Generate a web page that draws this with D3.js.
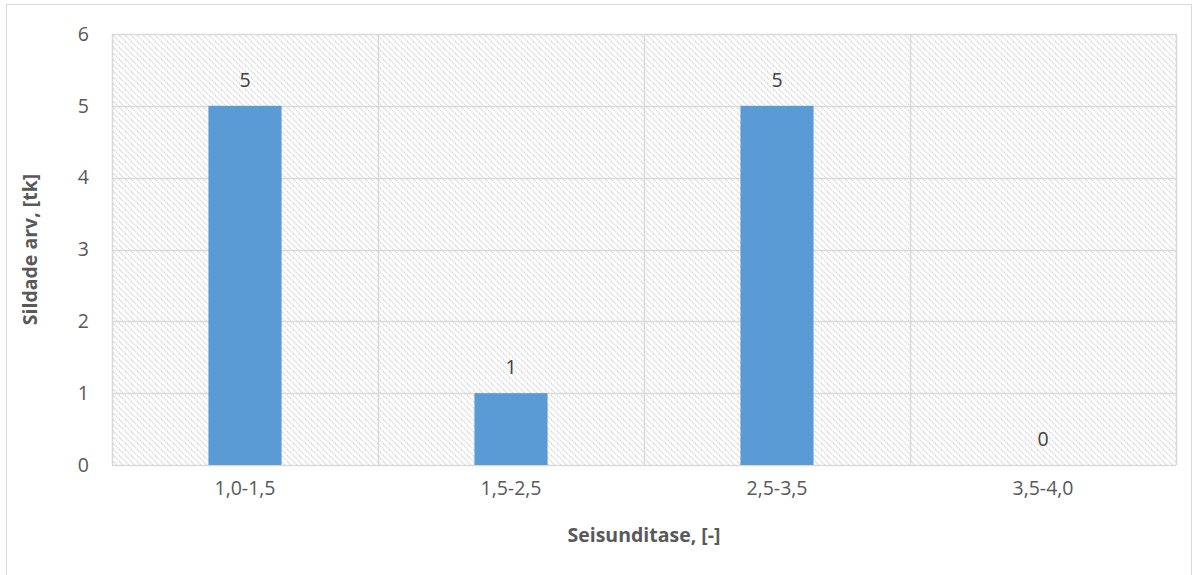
<!DOCTYPE html>
<html>
<head>
<meta charset="utf-8">
<script src="https://cdn.jsdelivr.net/npm/d3@7"></script>
<style>
  html, body { margin: 0; padding: 0; background: #fff; }
  svg { display: block; font-family: "Open Sans", "Noto Sans", sans-serif; }
</style>
</head>
<body>
<svg id="chart" width="1201" height="575"></svg>
<script>
// Number of bridges per condition class
const categories = ["1,0-1,5", "1,5-2,5", "2,5-3,5", "3,5-4,0"];
const counts = [5, 1, 5, 0];
const yTicks = [0, 1, 2, 3, 4, 5, 6];
const xTitle = "Seisunditase, [-]";
const yTitle = "Sildade arv, [tk]";

const FONT = "Open Sans, Noto Sans, sans-serif";
const LABEL_SIZE = 19.5;

const svg = d3.select("#chart");
const plot = { left: 112, right: 1176, top: 34, bottom: 465 };

// Outer chart frame
svg.append("rect")
  .attr("x", 6.5).attr("y", 4.5)
  .attr("width", 1185).attr("height", 580)
  .attr("fill", "#fff").attr("stroke", "#d9d9d9").attr("stroke-width", 1);

// Diagonal hatch used for the plot area background
const defs = svg.append("defs");
const pat = defs.append("pattern")
  .attr("id", "hatch")
  .attr("patternUnits", "userSpaceOnUse")
  .attr("width", 6).attr("height", 6);
pat.append("rect").attr("width", 6).attr("height", 6).attr("fill", "#fff");
pat.append("path")
  .attr("d", "M-1,-1 L7,7 M-4,2 L2,8 M4,-2 L8,2")
  .attr("stroke", "#dadada").attr("stroke-width", 1.6)
  .attr("stroke-dasharray", "1.2,0.9");

const x = d3.scaleBand()
  .domain(categories)
  .range([plot.left, plot.right])
  .paddingInner(0).paddingOuter(0);

const y = d3.scaleLinear()
  .domain([0, 6])
  .range([plot.bottom, plot.top]);

// Plot area
svg.append("rect")
  .attr("x", plot.left).attr("y", plot.top)
  .attr("width", plot.right - plot.left)
  .attr("height", plot.bottom - plot.top)
  .attr("fill", "url(#hatch)");

// Horizontal gridlines
svg.append("g")
  .selectAll("line")
  .data(yTicks)
  .join("line")
  .attr("x1", plot.left).attr("x2", plot.right)
  .attr("y1", d => Math.round(y(d)) + 0.5)
  .attr("y2", d => Math.round(y(d)) + 0.5)
  .attr("stroke", "#d9d9d9").attr("stroke-width", 1.5);

// Vertical gridlines at category boundaries
const bounds = categories.map(c => x(c)).concat([plot.right]);
svg.append("g")
  .selectAll("line")
  .data(bounds)
  .join("line")
  .attr("x1", d => Math.round(d) + 0.5).attr("x2", d => Math.round(d) + 0.5)
  .attr("y1", plot.top).attr("y2", plot.bottom)
  .attr("stroke", "#d9d9d9").attr("stroke-width", 1.5);

// Bars
const barW = x.bandwidth() * 0.275;
const rows = categories.map((c, i) => ({ c, v: counts[i] }));
svg.append("g")
  .selectAll("rect")
  .data(rows)
  .join("rect")
  .attr("x", d => x(d.c) + x.bandwidth() / 2 - barW / 2)
  .attr("width", barW)
  .attr("y", d => y(d.v))
  .attr("height", d => y(0) - y(d.v))
  .attr("fill", "#5b9bd5");

// Value labels above bars
svg.append("g")
  .selectAll("text")
  .data(rows)
  .join("text")
  .attr("x", d => x(d.c) + x.bandwidth() / 2)
  .attr("y", d => y(d.v) - 19)
  .attr("text-anchor", "middle")
  .attr("font-size", LABEL_SIZE)
  .attr("font-family", FONT)
  .attr("fill", "#404040")
  .text(d => d.v);

// Y axis tick labels
const yAxis = d3.axisLeft(y).tickValues(yTicks).tickFormat(d3.format("d"))
  .tickSize(0).tickPadding(23);
const gy = svg.append("g")
  .attr("transform", `translate(${plot.left},0)`)
  .call(yAxis);
gy.select(".domain").remove();
gy.selectAll("text")
  .attr("font-size", LABEL_SIZE)
  .attr("font-family", FONT)
  .attr("fill", "#595959");

// X axis category labels
const xAxis = d3.axisBottom(x).tickSize(0).tickPadding(16);
const gx = svg.append("g")
  .attr("transform", `translate(0,${plot.bottom})`)
  .call(xAxis);
gx.select(".domain").remove();
gx.selectAll("text")
  .attr("font-size", LABEL_SIZE)
  .attr("font-family", FONT)
  .attr("fill", "#595959");

// Axis titles
svg.append("text")
  .attr("x", (plot.left + plot.right) / 2)
  .attr("y", 542)
  .attr("text-anchor", "middle")
  .attr("font-size", 19.5)
  .attr("font-weight", "bold")
  .attr("font-family", FONT)
  .attr("fill", "#595959")
  .text(xTitle);

svg.append("text")
  .attr("transform", `translate(37,${(plot.top + plot.bottom) / 2}) rotate(-90)`)
  .attr("text-anchor", "middle")
  .attr("font-size", 19.5)
  .attr("font-weight", "bold")
  .attr("font-family", FONT)
  .attr("fill", "#595959")
  .text(yTitle);
</script>
</body>
</html>
